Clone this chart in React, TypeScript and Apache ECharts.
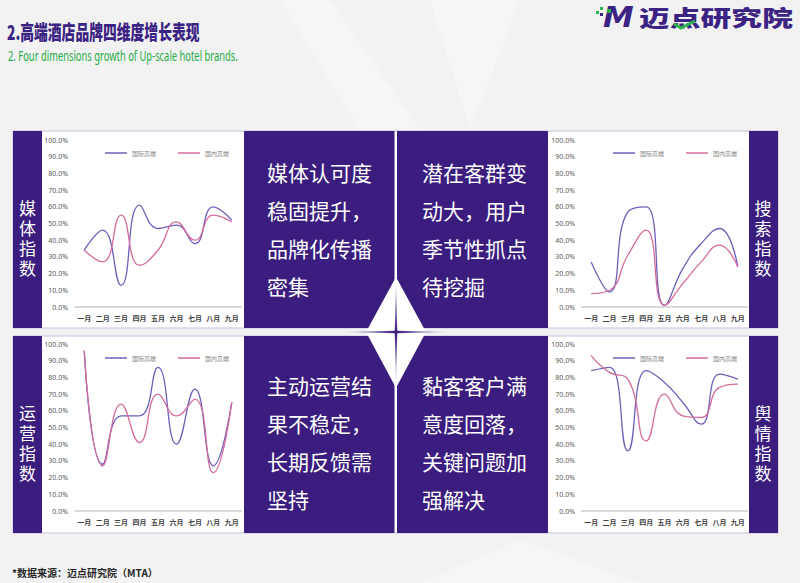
import React, { useEffect, useRef } from "react";
import * as echarts from "echarts";

const months = ["一月", "二月", "三月", "四月", "五月", "六月", "七月", "八月", "九月"];
const legendNames = ["国际高端", "国内高端"];
const yTicks = [0, 10, 20, 30, 40, 50, 60, 70, 80, 90, 100];

const mediaIntl = [34, 46, 13, 61, 47, 49, 38, 60, 52];
const mediaDom = [34, 27, 55, 25, 34, 51, 40, 55, 51];
const searchIntl = [27, 9, 57, 60, 1, 23, 38, 47, 24];
const searchDom = [8, 10, 31, 46, 1, 14, 27, 37, 24];
const opsIntl = [96, 28, 57, 57, 86, 40, 73, 27, 65];
const opsDom = [96, 27, 64, 41, 70, 57, 67, 23, 65];
const sentIntl = [84, 86, 36, 84, 77, 65, 52, 82, 79];
const sentDom = [93, 83, 79, 42, 70, 57, 56, 74, 76];

const sideLabels = ["媒体指数", "搜索指数", "运营指数", "舆情指数"];
const panelTexts = [
  ["媒体认可度", "稳固提升，", "品牌化传播", "密集"],
  ["潜在客群变", "动大，用户", "季节性抓点", "待挖掘"],
  ["主动运营结", "果不稳定，", "长期反馈需", "坚持"],
  ["黏客客户满", "意度回落，", "关键问题加", "强解决"],
];
const titleText = "2.高端酒店品牌四维度增长表现";
const subtitleText = "2. Four dimensions growth of Up-scale hotel brands.";
const sourceText = "*数据来源：迈点研究院（MTA）";
const logoText = "迈点研究院";

const PURPLE = "#3a1d7e";
const C_INTL = "#6f5fba";
const C_DOM = "#d46c9c";
const CJK = "'Noto Sans CJK SC', 'Noto Sans', sans-serif";
const SIDE_FONT = "'DejaVu Sans', 'Noto Sans CJK SC', sans-serif";

export default function App() {
  const ref = useRef<HTMLDivElement>(null);
  useEffect(() => {
    if (!ref.current) return;
    const chart = echarts.init(ref.current, undefined, { renderer: "svg" });
    const grids = [
      { left: 75, top: 140, width: 166, height: 167 },
      { left: 582, top: 140, width: 165, height: 167 },
      { left: 75, top: 344, width: 166, height: 167 },
      { left: 582, top: 344, width: 165, height: 167 },
    ];
    const data = [
      [mediaIntl, mediaDom],
      [searchIntl, searchDom],
      [opsIntl, opsDom],
      [sentIntl, sentDom],
    ];
    const legendPos = [
      { left: 100, top: 145 },
      { left: 608, top: 145 },
      { left: 100, top: 350 },
      { left: 608, top: 350 },
    ];
    const series: any[] = [];
    data.forEach((pair, i) => {
      pair.forEach((vals, j) => {
        const c = j === 0 ? C_INTL : C_DOM;
        series.push({
          type: "line",
          name: legendNames[j],
          xAxisIndex: i,
          yAxisIndex: i,
          data: vals,
          smooth: 0.5,
          showSymbol: false,
          symbol: "none",
          itemStyle: { color: c },
          lineStyle: { color: c, width: 1.3 },
          z: 5,
        });
      });
    });

    const graphic: any[] = [];
    graphic.push({ type: "polygon", z: -20, shape: { points: [[280, 0], [330, 0], [420, 130], [360, 130]] }, style: { fill: "rgba(255,255,255,0.35)" } });
    graphic.push({ type: "polygon", z: -20, shape: { points: [[430, 0], [520, 0], [470, 130]] }, style: { fill: "rgba(255,255,255,0.3)" } });
    graphic.push({ type: "polygon", z: -20, shape: { points: [[520, 540], [640, 583], [420, 583]] }, style: { fill: "rgba(255,255,255,0.35)" } });
    const rows = [
      { y: 131, h: 197 },
      { y: 336, h: 197 },
    ];
    const pushVertical = (label: string, cx: number, cy: number) => {
      const chars = label.split("");
      const pitch = 20;
      chars.forEach((ch, k) => {
        graphic.push({
          type: "text", z: 10, x: cx, y: cy + (k - (chars.length - 1) / 2) * pitch,
          style: { text: ch, fill: "#ffffff", font: `17px ${SIDE_FONT}`, textAlign: "center", textVerticalAlign: "middle" },
        });
      });
    };
    rows.forEach((r, ri) => {
      graphic.push({ type: "rect", z: -10, shape: { x: 13, y: r.y, width: 765, height: r.h }, style: { fill: "#ffffff", stroke: "#c8c0e0", lineWidth: 1 } });
      graphic.push({ type: "rect", z: -9, shape: { x: 13, y: r.y, width: 29, height: r.h }, style: { fill: PURPLE } });
      graphic.push({ type: "rect", z: -9, shape: { x: 749, y: r.y, width: 29, height: r.h }, style: { fill: PURPLE } });
      graphic.push({ type: "rect", z: -9, shape: { x: 244, y: r.y, width: 150.5, height: r.h }, style: { fill: PURPLE } });
      graphic.push({ type: "rect", z: -9, shape: { x: 397, y: r.y, width: 151, height: r.h }, style: { fill: PURPLE } });
      const li = ri * 2;
      pushVertical(sideLabels[li], 27.5, r.y + 108);
      pushVertical(sideLabels[li + 1], 763, r.y + 108);
      const ty = ri === 0 ? 153 : 366;
      graphic.push({
        type: "text", z: 10, x: 267, y: ty,
        style: { text: panelTexts[li].join("\n"), fill: "#ffffff", font: `21px ${CJK}`, lineHeight: 38, textAlign: "left", textVerticalAlign: "top" },
      });
      graphic.push({
        type: "text", z: 10, x: 422, y: ty,
        style: { text: panelTexts[li + 1].join("\n"), fill: "#ffffff", font: `21px ${CJK}`, lineHeight: 38, textAlign: "left", textVerticalAlign: "top" },
      });
    });
    graphic.push({ type: "polygon", z: 20, shape: { points: [[396, 277], [426, 332], [396, 388], [366, 332]] }, style: { fill: "#ffffff" } });
    graphic.push({
      type: "polygon", z: 21, shape: { points: [[340, 332], [396, 330.7], [452, 332], [396, 333.3]] },
      style: { fill: new echarts.graphic.LinearGradient(0, 0, 1, 0, [
        { offset: 0, color: "rgba(58,29,126,0)" }, { offset: 0.5, color: "#3a1d7e" }, { offset: 1, color: "rgba(58,29,126,0)" },
      ]) },
    });
    graphic.push({
      type: "polygon", z: 21, shape: { points: [[396, 279], [397.3, 332], [396, 386], [394.7, 332]] },
      style: { fill: new echarts.graphic.LinearGradient(0, 0, 0, 1, [
        { offset: 0, color: "rgba(58,29,126,0.1)" }, { offset: 0.5, color: "#3a1d7e" }, { offset: 1, color: "rgba(58,29,126,0.1)" },
      ]) },
    });
    graphic.push({ type: "text", z: 10, x: 7, y: 31, scaleX: 0.69, style: { text: titleText, fill: "#3b2383", font: `900 20px ${CJK}`, textAlign: "left", textVerticalAlign: "middle" } });
    graphic.push({ type: "text", z: 10, x: 8, y: 55, scaleX: 0.67, style: { text: subtitleText, fill: "#26ad48", font: `14px 'Noto Sans', sans-serif`, textAlign: "left", textVerticalAlign: "middle" } });
    graphic.push({ type: "rect", z: 10, shape: { x: 596, y: 11, width: 3, height: 3 }, style: { fill: "#2db34a" } });
    graphic.push({ type: "rect", z: 10, shape: { x: 600, y: 7, width: 3, height: 3 }, style: { fill: "#2db34a" } });
    graphic.push({ type: "rect", z: 10, shape: { x: 600, y: 13, width: 3, height: 3 }, style: { fill: "#3b2383" } });
    graphic.push({ type: "text", z: 10, x: 603, y: 17, scaleX: 1.1, style: { text: "M", fill: "#3b2383", font: `italic 900 28px 'DejaVu Sans', sans-serif`, textAlign: "left", textVerticalAlign: "middle" } });
    graphic.push({ type: "rect", z: 11, shape: { x: 607, y: 9, width: 4, height: 4 }, style: { fill: "#2db34a" } });
    graphic.push({ type: "text", z: 10, x: 639, y: 17, scaleX: 1.4, style: { text: logoText, fill: "#3b2383", font: `900 22px ${CJK}`, textAlign: "left", textVerticalAlign: "middle" } });
    graphic.push({ type: "polyline", z: 12, shape: { points: [[674, 24], [681, 28], [695, 21]] }, style: { stroke: "#2db34a", lineWidth: 3, fill: "none" } });
    graphic.push({ type: "text", z: 10, x: 12, y: 572, style: { text: sourceText, fill: "#262626", font: `bold 10px ${CJK}`, textAlign: "left", textVerticalAlign: "middle" } });

    const option: any = {
      animation: false,
      backgroundColor: "#f2f2f2",
      grid: grids,
      xAxis: grids.map((_, i) => ({
        gridIndex: i,
        type: "category",
        data: months,
        boundaryGap: true,
        axisLine: { lineStyle: { color: "#d9d9d9", width: 2 } },
        axisTick: { show: false },
        axisLabel: { fontSize: 7, color: "#404040", margin: 7, interval: 0, fontFamily: CJK, fontWeight: "bold" },
      })),
      yAxis: grids.map((_, i) => ({
        gridIndex: i,
        type: "value",
        min: yTicks[0],
        max: yTicks[yTicks.length - 1],
        interval: yTicks[1] - yTicks[0],
        axisLine: { show: false },
        axisTick: { show: false },
        splitLine: { show: false },
        axisLabel: { fontSize: 7, color: "#595959", margin: 7, fontFamily: "'Noto Sans', sans-serif", formatter: (v: number) => v.toFixed(1) + "%" },
      })),
      legend: legendPos.map((p) => ({
        left: p.left,
        top: p.top,
        data: legendNames,
        icon: "rect",
        itemWidth: 22,
        itemHeight: 1.5,
        itemGap: 22,
        selectedMode: false,
        textStyle: { fontSize: 6, color: "#7f7f7f", fontFamily: CJK },
      })),
      series,
      graphic: { elements: graphic },
    };
    chart.setOption(option);
    return () => chart.dispose();
  }, []);
  return (
    <div
      ref={ref}
      style={{ position: "fixed", left: 0, top: 0, width: 800, height: 583 }}
    />
  );
}
